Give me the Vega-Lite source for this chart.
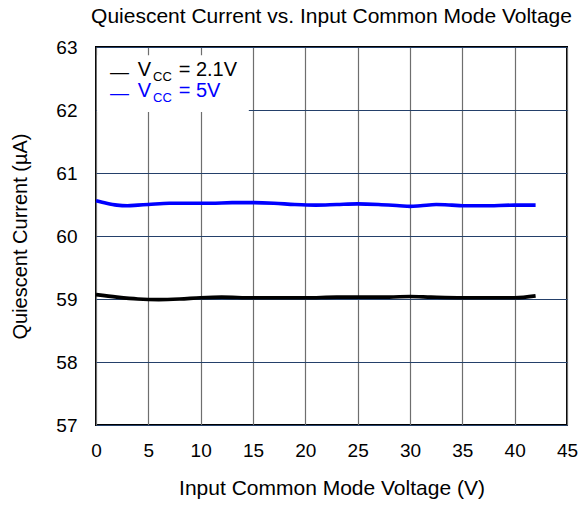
{
  "$schema": "https://vega.github.io/schema/vega-lite/v6.json",
  "width": 471,
  "height": 378,
  "autosize": {"type": "none"},
  "padding": {"left": 96, "top": 47, "right": 12, "bottom": 81},
  "background": "white",
  "config": {
    "font": "Liberation Sans",
    "view": {"stroke": "black", "strokeWidth": 2},
    "axis": {"labelFont": "Liberation Sans", "titleFont": "Liberation Sans", "labelColor": "black", "titleColor": "black", "titleFontWeight": "normal", "domain": false, "ticks": false, "labelFontSize": 19, "titleFontSize": 20}
  },
  "title": {"text": "Quiescent Current vs. Input Common Mode Voltage", "fontSize": 21, "fontWeight": "normal", "font": "Liberation Sans", "anchor": "middle", "offset": 11, "color": "black"},
  "datasets": {
    "curves": [
      {"v": 0, "iq": 60.56, "s": "5V"}, {"v": 1, "iq": 60.52, "s": "5V"}, {"v": 2, "iq": 60.49, "s": "5V"}, {"v": 3, "iq": 60.48, "s": "5V"}, {"v": 4, "iq": 60.49, "s": "5V"}, {"v": 5, "iq": 60.5, "s": "5V"}, {"v": 7, "iq": 60.52, "s": "5V"}, {"v": 9, "iq": 60.52, "s": "5V"}, {"v": 11, "iq": 60.52, "s": "5V"}, {"v": 13, "iq": 60.53, "s": "5V"}, {"v": 15, "iq": 60.53, "s": "5V"}, {"v": 17, "iq": 60.52, "s": "5V"}, {"v": 19, "iq": 60.5, "s": "5V"}, {"v": 21, "iq": 60.49, "s": "5V"}, {"v": 23, "iq": 60.5, "s": "5V"}, {"v": 25, "iq": 60.51, "s": "5V"}, {"v": 27, "iq": 60.5, "s": "5V"}, {"v": 29, "iq": 60.48, "s": "5V"}, {"v": 30, "iq": 60.47, "s": "5V"}, {"v": 31, "iq": 60.48, "s": "5V"}, {"v": 32.5, "iq": 60.5, "s": "5V"}, {"v": 34, "iq": 60.49, "s": "5V"}, {"v": 35, "iq": 60.48, "s": "5V"}, {"v": 37, "iq": 60.48, "s": "5V"}, {"v": 40, "iq": 60.49, "s": "5V"}, {"v": 42, "iq": 60.49, "s": "5V"},
      {"v": 0, "iq": 59.07, "s": "2.1V"}, {"v": 2, "iq": 59.03, "s": "2.1V"}, {"v": 4, "iq": 59.0, "s": "2.1V"}, {"v": 6, "iq": 58.99, "s": "2.1V"}, {"v": 8, "iq": 59.0, "s": "2.1V"}, {"v": 10, "iq": 59.02, "s": "2.1V"}, {"v": 12, "iq": 59.03, "s": "2.1V"}, {"v": 15, "iq": 59.02, "s": "2.1V"}, {"v": 18, "iq": 59.02, "s": "2.1V"}, {"v": 20, "iq": 59.02, "s": "2.1V"}, {"v": 23, "iq": 59.03, "s": "2.1V"}, {"v": 25, "iq": 59.03, "s": "2.1V"}, {"v": 28, "iq": 59.03, "s": "2.1V"}, {"v": 30, "iq": 59.04, "s": "2.1V"}, {"v": 32, "iq": 59.03, "s": "2.1V"}, {"v": 35, "iq": 59.02, "s": "2.1V"}, {"v": 38, "iq": 59.02, "s": "2.1V"}, {"v": 40, "iq": 59.02, "s": "2.1V"}, {"v": 42, "iq": 59.05, "s": "2.1V"}
    ],
    "legend": [
      {"s": "2.1V", "dx": 1.34, "vx": 4.0, "cx": 5.45, "ex": 7.9, "y": 62.627, "val": "= 2.1V"},
      {"s": "5V", "dx": 1.34, "vx": 4.0, "cx": 5.45, "ex": 7.9, "y": 62.294, "val": "= 5V"}
    ],
    "box": [{"x": 0.1, "x2": 14.6, "y": 62.87, "y2": 61.97}]
  },
  "layer": [
    {
      "data": {"name": "curves"},
      "mark": {"type": "line", "strokeWidth": 3.6, "interpolate": "monotone"},
      "encoding": {
        "x": {"field": "v", "type": "quantitative", "scale": {"domain": [0, 45], "nice": false}, "axis": {"values": [0,5,10,15,20,25,30,35,40,45], "labelFlush": false, "title": "Input Common Mode Voltage (V)", "titleFontSize": 21, "titlePadding": 17, "labelPadding": 16, "gridColor": "#6e6e6e", "gridOpacity": 1, "gridWidth": 1.2}},
        "y": {"field": "iq", "type": "quantitative", "scale": {"domain": [57, 63], "nice": false, "zero": false}, "axis": {"values": [57,58,59,60,61,62,63], "format": "d", "title": "Quiescent Current (µA)", "titlePadding": 25, "labelPadding": 19, "gridColor": "#24406a", "gridOpacity": 1, "gridWidth": 1}},
        "color": {"field": "s", "type": "nominal", "scale": {"domain": ["2.1V", "5V"], "range": ["black", "#0000ff"]}, "legend": null}
      }
    },
    {
      "data": {"name": "box"},
      "mark": {"type": "rect", "fill": "white"},
      "encoding": {
        "x": {"field": "x", "type": "quantitative"},
        "x2": {"field": "x2"},
        "y": {"field": "y", "type": "quantitative"},
        "y2": {"field": "y2"}
      }
    },
    {
      "data": {"name": "legend"},
      "mark": {"type": "text", "align": "left", "baseline": "middle", "fontSize": 19, "dy": 2, "font": "Liberation Sans"},
      "encoding": {
        "x": {"field": "dx", "type": "quantitative"},
        "y": {"field": "y", "type": "quantitative"},
        "text": {"value": "—"},
        "color": {"field": "s", "type": "nominal", "scale": {"domain": ["2.1V", "5V"], "range": ["black", "#0000ff"]}, "legend": null}
      }
    },
    {
      "data": {"name": "legend"},
      "mark": {"type": "text", "align": "left", "baseline": "middle", "fontSize": 20, "font": "Liberation Sans"},
      "encoding": {
        "x": {"field": "vx", "type": "quantitative"},
        "y": {"field": "y", "type": "quantitative"},
        "text": {"value": "V"},
        "color": {"field": "s", "type": "nominal", "scale": {"domain": ["2.1V", "5V"], "range": ["black", "#0000ff"]}, "legend": null}
      }
    },
    {
      "data": {"name": "legend"},
      "mark": {"type": "text", "align": "left", "baseline": "middle", "fontSize": 13, "dy": 7, "font": "Liberation Sans"},
      "encoding": {
        "x": {"field": "cx", "type": "quantitative"},
        "y": {"field": "y", "type": "quantitative"},
        "text": {"value": "CC"},
        "color": {"field": "s", "type": "nominal", "scale": {"domain": ["2.1V", "5V"], "range": ["black", "#0000ff"]}, "legend": null}
      }
    },
    {
      "data": {"name": "legend"},
      "mark": {"type": "text", "align": "left", "baseline": "middle", "fontSize": 20, "font": "Liberation Sans"},
      "encoding": {
        "x": {"field": "ex", "type": "quantitative"},
        "y": {"field": "y", "type": "quantitative"},
        "text": {"field": "val"},
        "color": {"field": "s", "type": "nominal", "scale": {"domain": ["2.1V", "5V"], "range": ["black", "#0000ff"]}, "legend": null}
      }
    }
  ]
}
